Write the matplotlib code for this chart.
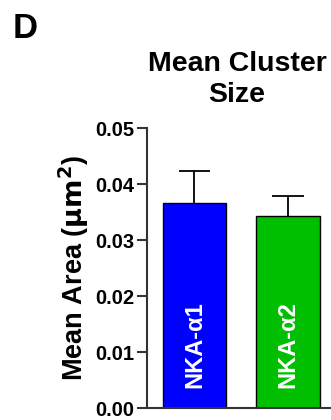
import matplotlib
matplotlib.use('Agg')
import matplotlib.pyplot as plt

# ── Data ───────────────────────────────────────────────────────
groups  = ['NKA-α1', 'NKA-α2']
means   = [0.0366, 0.0342]
sems    = [0.0057, 0.0036]
colors  = ['#0000FF', '#00BE00']
yticks  = [0.00, 0.01, 0.02, 0.03, 0.04, 0.05]

plt.rcParams['font.family'] = ['Liberation Sans', 'DejaVu Sans']
plt.rcParams['font.weight'] = 'bold'

W, H = 331, 420
fig = plt.figure(figsize=(W / 100, H / 100), dpi=100)

ax = fig.add_axes([147 / W, 1 - 408 / H, (W - 147) / W, 280 / H])

x = list(range(len(groups)))
bw = 0.674
ax.bar(x, means, width=bw, color=colors, edgecolor='black', linewidth=1.0,
       zorder=2)

# upper error bars only (no cap at the bar top)
tops = [m + s for m, s in zip(means, sems)]
ax.vlines(x, means, tops, color='black', linewidth=1.3, zorder=1)
ax.hlines(tops, [xi - bw / 4 for xi in x], [xi + bw / 4 for xi in x],
          color='black', linewidth=1.3, zorder=1)

for xi, g in zip(x, groups):
    ax.text(xi, 0.0113, g, rotation=90, ha='center', va='center',
            color='white', fontsize=17, fontweight='bold')

ax.set_xlim(-0.508, 1.46)
ax.set_ylim(0, 0.05)
ax.set_yticks(yticks)
ax.set_yticklabels([f'{t:.2f}' for t in yticks])
ax.set_xticks([])
ax.tick_params(axis='y', direction='out', length=7, width=1.5, colors='#333333',
               labelcolor='black', labelsize=14.5, pad=2)

for s in ['top', 'right']:
    ax.spines[s].set_visible(False)
for s in ['left', 'bottom']:
    ax.spines[s].set_linewidth(1.5)
    ax.spines[s].set_color('#333333')

fig.text(74 / W, 1 - 268 / H, r'Mean Area ($\mathbf{\mu m^2}$)', rotation=90,
         ha='center', va='center', fontsize=19.5, fontweight='bold')

fig.text(237 / W, 1 - 51 / H, 'Mean Cluster\nSize', ha='center', va='top',
         fontsize=20.5, fontweight='bold', linespacing=1.25)

fig.text(13 / W, 1 - 12 / H, 'D', ha='left', va='top',
         fontsize=25, fontweight='bold')

fig.savefig('out.png', dpi=100)
